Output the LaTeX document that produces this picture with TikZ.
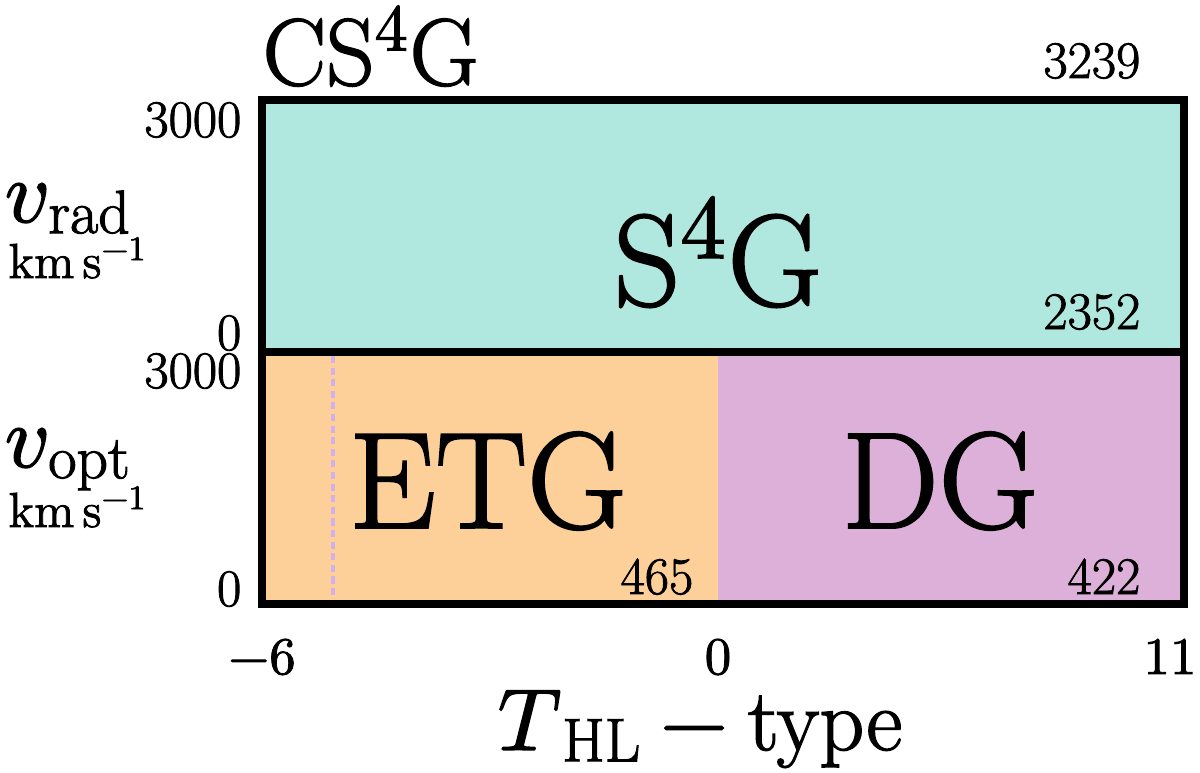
\documentclass[tikz,border=0pt]{standalone}
\usepackage{amsmath}
\usepackage{unicode-math}
\setmainfont{Latin Modern Roman}[FakeBold=1.6]
\setmathfont{Latin Modern Math}[FakeBold=1.6]

\definecolor{sfourg}{HTML}{B0E8DF}
\definecolor{etgcol}{HTML}{FDD09A}
\definecolor{dgcol}{HTML}{DDB0DA}
\definecolor{cutline}{HTML}{D2B0EC}

% lowered subscript in text size
\newcommand{\lowsub}[1]{\raisebox{-3.2pt}{\fontsize{17.5}{17.5}\selectfont #1}}

\tikzset{
  frame/.style={line width=2.3pt, line join=miter},
  biglabel/.style={inner sep=0pt, font=\fontsize{39}{39}\selectfont},
  count/.style={inner sep=0pt, font=\fontsize{15}{15}\selectfont},
  ticklabel/.style={inner sep=0pt, font=\fontsize{15}{15}\selectfont},
  axislabel/.style={inner sep=0pt, font=\fontsize{25}{25}\selectfont},
  unitlabel/.style={inner sep=0pt, font=\fontsize{14}{14}\selectfont},
}

\begin{document}
\begin{tikzpicture}[x=0.01cm, y=-0.01cm]
\useasboundingbox (0,0) rectangle (1200,773);

% coloured regions
\fill[sfourg] (262,100) rectangle (1184,352);
\fill[etgcol] (262,352) rectangle (718,604);
\fill[dgcol] (718,352) rectangle (1184,604);
\draw[cutline, line width=1.1pt, dash pattern=on 2pt off 1.3pt] (333,356) -- (333,600);

\draw[frame] (262,100) rectangle (1184,604);
\draw[frame] (262,352) -- (1184,352);

% sample names
\node[inner sep=0pt, font=\fontsize{27}{27}\selectfont, anchor=base west] (cs4g)
    at (262,85) {CS$^4$G};
\node[biglabel, font=\fontsize{37}{37}\selectfont] (s4g) at (718,252) {S$^4$G};
\node[biglabel] (etg) at (488,481) {ETG};
\node[biglabel] (dg) at (940,481) {DG};

% counts
\node[count, anchor=base east] (n3239) at (1141,78) {3239};
\node[count, anchor=base east] (n2352) at (1141,329) {2352};
\node[count, anchor=base east] (n465) at (694,594) {465};
\node[count, anchor=base east] (n422) at (1141,594) {422};

% vertical axes
\node[ticklabel, anchor=base east] (top3000) at (242,137) {3000};
\node[ticklabel, anchor=base east] (top0) at (242,350) {0};
\node[ticklabel, anchor=base east] (bot3000) at (242,388) {3000};
\node[ticklabel, anchor=base east] (bot0) at (242,606) {0};

\node[axislabel, anchor=base west] (vrad) at (4,222) {$v$\lowsub{rad}};
\node[unitlabel, anchor=base west] (vradunit) at (8,278) {$\mathrm{km\,s^{-1}}$};
\node[axislabel, anchor=base west] (vopt) at (4,467) {$v$\lowsub{opt}};
\node[unitlabel, anchor=base west] (voptunit) at (8,527) {$\mathrm{km\,s^{-1}}$};

% horizontal axis
\node[ticklabel, anchor=base] (xmin) at (262,674) {$-6$};
\node[ticklabel, anchor=base] (xmid) at (718,674) {$0$};
\node[ticklabel, anchor=base] (xmax) at (1170,674) {$11$};
\node[axislabel, anchor=base] (xlabel) at (700,750) {$T$\lowsub{HL}${}-{}$type};

\end{tikzpicture}
\end{document}
